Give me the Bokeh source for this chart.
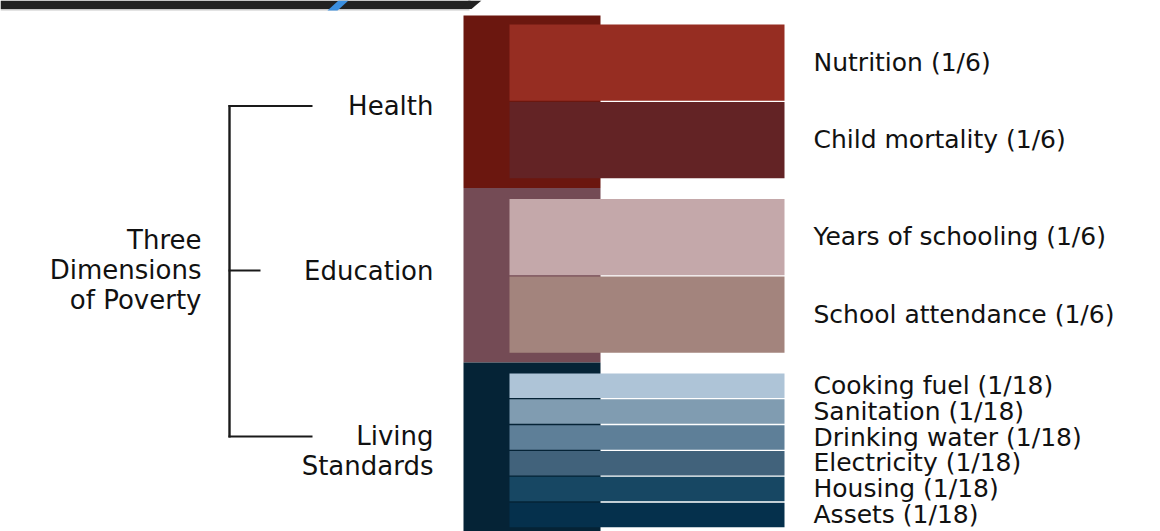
from bokeh.plotting import figure
from bokeh.models import Range1d, ColumnDataSource
from bokeh.core.properties import value
from bokeh.embed import file_html
from bokeh.resources import INLINE

# ---- data ----
dimensions = ["Health", "Education", "Living\nStandards"]
dimension_colors = ["#6B170F", "#744B55", "#052336"]
indicators = [
    ["Nutrition", "Child mortality"],
    ["Years of schooling", "School attendance"],
    ["Cooking fuel", "Sanitation", "Drinking water", "Electricity", "Housing", "Assets"],
]
weight_labels = [["1/6", "1/6"], ["1/6", "1/6"], ["1/18"] * 6]
weights = [[1 / 6, 1 / 6], [1 / 6, 1 / 6], [1 / 18] * 6]
indicator_colors = [
    ["#962D22", "#632325"],
    ["#C4A8AA", "#A3847D"],
    ["#AEC4D7", "#809CB1", "#5E7F98", "#41627B", "#174763", "#05304C"],
]
title_text = "Three\nDimensions\nof Poverty"

# ---- layout (pixel-like screen coordinates) ----
W, H = 1160, 531
p = figure(width=W, height=H, output_backend="svg", toolbar_location=None,
           x_range=Range1d(0, W), y_range=Range1d(H, 0),
           min_border=0, background_fill_color="white", border_fill_color="white")
p.axis.visible = False
p.grid.visible = False
p.outline_line_color = None

SCALE = 465.0   # px per unit of weight
GAP = 19.5
TOP0 = 24.0
BAR_L, BAR_R = 509, 784
BLOCK_L, BLOCK_R = 463, 600

# header strip (decoration)
p.quad(left=[0], right=[470], top=[0], bottom=[8.5], fill_color="#222222", line_color=None)
p.patch(x=[468, 481, 471, 460], y=[0, 0, 8.5, 8.5], fill_color="#222222", line_color=None)
p.quad(left=[0], right=[469], top=[8.5], bottom=[10], fill_color="#C8C8C8", line_color=None)
p.patch(x=[338, 348, 337, 327], y=[0, 0, 10, 10], fill_color="#3A8FE0", line_color=None)

bars = dict(left=[], right=[], top=[], bottom=[], color=[])
labels = dict(x=[], y=[], text=[])
group_tops, group_bottoms = [], []
y = TOP0
for gi, ws in enumerate(weights):
    group_tops.append(y)
    for ii, w in enumerate(ws):
        t = y
        b = y + w * SCALE
        bars["left"].append(BAR_L)
        bars["right"].append(BAR_R)
        bars["top"].append(t)
        bars["bottom"].append(b - 1.3)
        bars["color"].append(indicator_colors[gi][ii])
        labels["x"].append(813)
        labels["y"].append((t + b) / 2 - 1)
        labels["text"].append(f"{indicators[gi][ii]} ({weight_labels[gi][ii]})")
        y = b
    group_bottoms.append(y)
    y += GAP

# outer dimension blocks
blk = dict(left=[], right=[], top=[], bottom=[], color=[])
for gi in range(len(weights)):
    t = group_tops[gi] - 9 if gi == 0 else group_bottoms[gi - 1] + 8.5
    b = group_bottoms[gi] + 8.5 if gi < len(weights) - 1 else group_bottoms[gi] + 12
    blk["left"].append(BLOCK_L)
    blk["right"].append(BLOCK_R)
    blk["top"].append(t)
    blk["bottom"].append(b)
    blk["color"].append(dimension_colors[gi])

p.quad(left="left", right="right", top="top", bottom="bottom", fill_color="color",
       line_color=None, source=ColumnDataSource(blk))
p.quad(left="left", right="right", top="top", bottom="bottom", fill_color="color",
       line_color=None, source=ColumnDataSource(bars))

p.text(x="x", y="y", text="text", source=ColumnDataSource(labels),
       text_font=value("DejaVu Sans"), text_font_size="25px", text_color="#111111",
       text_align="left", text_baseline="middle")

# dimension labels and bracket
label_dy = [4, -6, 0]
dim_y = []
for gi in range(len(weights)):
    c = (group_tops[gi] + group_bottoms[gi]) / 2
    dim_y.append(c + label_dy[gi])
p.text(x=[433] * 3, y=dim_y, text=dimensions, text_font=value("DejaVu Sans"),
       text_font_size="26px", text_color="#111111", text_align="right",
       text_baseline="middle", text_line_height=1.0)

first_line_y = [dim_y[0], dim_y[1], dim_y[2] - 14.5]
p.segment(x0=[229], y0=[first_line_y[0] - 1], x1=[229], y1=[first_line_y[2] + 1],
          line_color="#1a1a1a", line_width=2.4)
p.segment(x0=[228, 228, 228], y0=first_line_y, x1=[312, 260, 312], y1=first_line_y,
          line_color="#1a1a1a", line_width=2.2)

p.text(x=[201], y=[first_line_y[1] - 1], text=[title_text], text_font=value("DejaVu Sans"),
       text_font_size="26px", text_color="#111111", text_align="right",
       text_baseline="middle", text_line_height=1.0)

open("out.html", "w").write(file_html(p, INLINE))
